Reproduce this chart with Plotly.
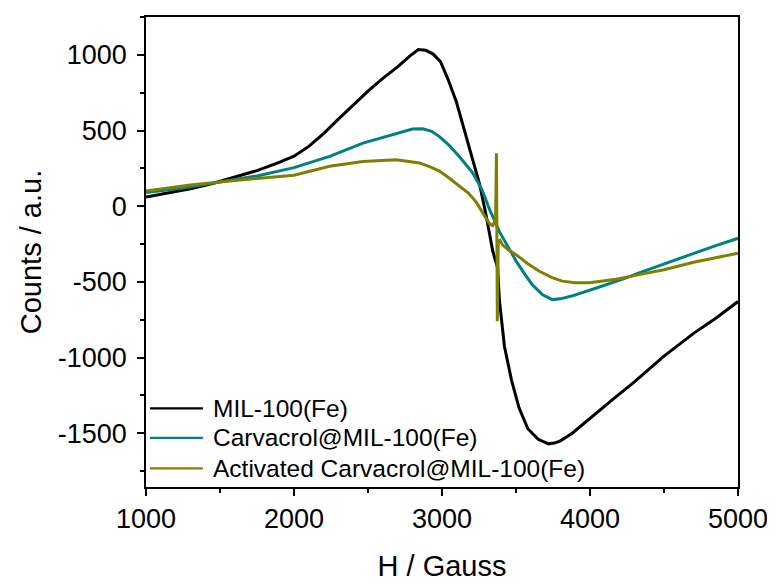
import plotly.graph_objects as go

# ---- data ----
mil_x = [1000, 1150, 1300, 1450, 1600, 1750, 1900, 2000, 2100, 2200, 2300, 2400, 2500, 2600, 2700,
         2780, 2840, 2890, 2940, 2990, 3040, 3097, 3152, 3200, 3253, 3298, 3343, 3376, 3382, 3388,
         3422, 3470, 3520, 3580, 3650, 3720, 3760, 3800, 3880, 4000, 4150, 4300, 4500, 4700, 4850, 5000]
mil_y = [60, 85, 115, 150, 190, 235, 290, 330, 395, 480, 575, 670, 760, 845, 920,
         990, 1035, 1030, 1005, 955, 840, 690, 500, 330, 150, -60, -297, -407, -520, -623,
         -927, -1150, -1330, -1470, -1540, -1570, -1565, -1550, -1500, -1400, -1280, -1160, -990, -840, -740, -630]

carv_x = [1000, 1250, 1500, 1750, 2000, 2241, 2466, 2691, 2800, 2870, 2930, 2983, 3050, 3118, 3206,
          3270, 3320, 3388, 3450, 3503, 3560, 3611, 3680, 3746, 3800, 3881, 4043, 4245, 4332, 4500,
          4700, 4850, 5000]
carv_y = [90, 120, 160, 200, 255, 329, 417, 482, 510, 512, 495, 460, 400, 327, 222,
          110, -18, -168, -280, -366, -450, -520, -585, -617, -612, -592, -540, -474, -440, -380,
          -310, -260, -212]

act_x = [1000, 1300, 1600, 2000, 2241, 2466, 2691, 2848, 2920, 2983, 3050, 3118, 3180, 3231, 3280,
         3320, 3343, 3362, 3368, 3374, 3380, 3392, 3410, 3450, 3500, 3580, 3658, 3740, 3813, 3900,
         3995, 4177, 4332, 4500, 4700, 5000]
act_y = [100, 140, 170, 205, 264, 296, 307, 286, 260, 232, 185, 133, 85, 27, -50,
         -115, -128, -90, 350, -760, -235, -225, -257, -290, -320, -380, -430, -470, -495, -505,
         -505, -483, -452, -420, -370, -310]

names = ["MIL-100(Fe)", "Carvacrol@MIL-100(Fe)", "Activated Carvacrol@MIL-100(Fe)"]
colors = ["#000000", "#008080", "#808000"]

x_ticks = [1000, 2000, 3000, 4000, 5000]
y_ticks = [-1500, -1000, -500, 0, 500, 1000]

FONT = "Arial, Liberation Sans, sans-serif"

fig = go.Figure()
for xs, ys, nm, c in zip([mil_x, carv_x, act_x], [mil_y, carv_y, act_y], names, colors):
    fig.add_trace(go.Scatter(x=xs, y=ys, mode="lines", name=nm, showlegend=False,
                             line=dict(color=c, width=3)))

axis_common = dict(showgrid=False, zeroline=False, showline=True, linecolor="black", linewidth=1.5,
                   mirror=True, ticks="outside", ticklen=7, tickwidth=1.5, tickcolor="black",
                   tickfont=dict(family=FONT, size=27, color="black"))

fig.update_xaxes(range=[1000, 5000], tickvals=x_ticks, ticktext=[str(v) for v in x_ticks],
                 minor=dict(ticks="outside", ticklen=4, tickwidth=1.5, tickcolor="black", dtick=500,
                            tick0=1000),
                 title=dict(text="H / Gauss", font=dict(family=FONT, size=29, color="black"), standoff=23),
                 **axis_common)
fig.update_yaxes(range=[-1855, 1250], tickvals=y_ticks, ticktext=[str(v) for v in y_ticks],
                 minor=dict(ticks="outside", ticklen=4, tickwidth=1.5, tickcolor="black", dtick=250,
                            tick0=0),
                 ticklabelstandoff=5,
                 title=dict(text="Counts / a.u.", font=dict(family=FONT, size=29, color="black"), standoff=8),
                 **axis_common)

# page is rendered with an 8px body margin; figure is sized to fit the window
FIG_W, FIG_H = 767, 576
L, R, T, B = 138, 731, 7, 485   # plot-area edges in figure pixels
W, H = R - L, B - T

# ---- custom legend (longer sample lines, as in the reference) ----
leg_rows = [405, 435, 466]
shapes = []
annotations = []
for nm, c, py in zip(names, colors, leg_rows):
    yp = (B - py) / H
    shapes.append(dict(type="line", xref="paper", yref="paper",
                       x0=(142 - L) / W, x1=(195 - L) / W, y0=yp, y1=yp,
                       line=dict(color=c, width=2.2)))
    annotations.append(dict(xref="paper", yref="paper", x=(203 - L) / W, y=yp,
                            xanchor="left", yanchor="middle", text=nm, showarrow=False,
                            font=dict(family=FONT, size=24.5, color="black")))

fig.update_layout(
    width=FIG_W, height=FIG_H,
    margin=dict(l=L, r=FIG_W - R, t=T, b=FIG_H - B),
    paper_bgcolor="white", plot_bgcolor="white",
    font=dict(family=FONT, color="black"),
    shapes=shapes, annotations=annotations,
    showlegend=False,
)

fig.write_html("out.html")
